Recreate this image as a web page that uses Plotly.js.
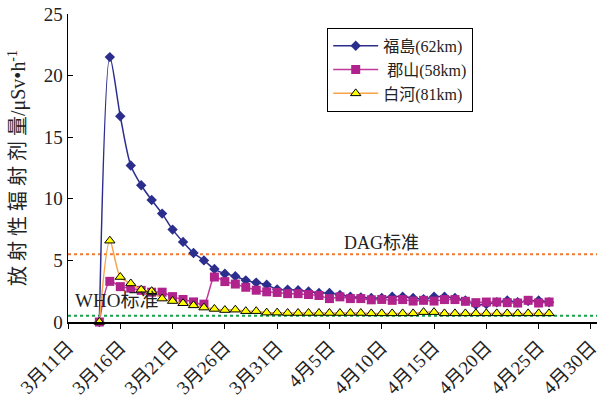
<!DOCTYPE html>
<html><head><meta charset="utf-8">
<script src="https://cdn.plot.ly/plotly-3.0.1.min.js"></script>
<style>html,body{margin:0;padding:0;background:#fff}</style>
</head><body><div id="chart" style="width:597px;height:397px"></div>
<script>
const dates = ['2011-03-14','2011-03-15','2011-03-16','2011-03-17','2011-03-18','2011-03-19','2011-03-20','2011-03-21','2011-03-22','2011-03-23','2011-03-24','2011-03-25','2011-03-26','2011-03-27','2011-03-28','2011-03-29','2011-03-30','2011-03-31',
'2011-04-01','2011-04-02','2011-04-03','2011-04-04','2011-04-05','2011-04-06','2011-04-07','2011-04-08','2011-04-09','2011-04-10','2011-04-11','2011-04-12','2011-04-13','2011-04-14','2011-04-15','2011-04-16','2011-04-17','2011-04-18','2011-04-19','2011-04-20','2011-04-21','2011-04-22','2011-04-23','2011-04-24','2011-04-25','2011-04-26'];
const fukushima = [0,21.5,16.7,12.7,11.1,9.9,8.8,7.5,6.5,5.6,5.0,4.3,3.92,3.72,3.38,3.2,3.03,2.65,
2.63,2.58,2.48,2.35,2.36,2.2,2.05,2.0,1.95,1.95,2.05,2.05,1.95,1.85,2.05,2.05,1.95,1.75,1.4,1.45,1.6,1.75,1.6,1.7,1.75,1.6];
const koriyama = [0,3.3,2.87,2.75,2.57,2.42,2.42,2.06,1.83,1.63,1.45,3.65,3.28,3.08,2.82,2.58,2.45,2.4,
2.3,2.3,2.23,2.15,1.9,2.04,1.9,1.9,1.8,1.83,1.76,1.82,1.7,1.76,1.7,1.82,1.82,1.68,1.57,1.62,1.62,1.57,1.54,1.76,1.54,1.62];
const shirakawa = [0,6.6,3.65,3.13,2.62,2.5,1.9,1.7,1.52,1.35,1.17,1.06,0.97,1.0,0.88,0.88,0.76,0.76,
0.73,0.73,0.73,0.73,0.73,0.73,0.73,0.73,0.7,0.7,0.7,0.7,0.7,0.8,0.8,0.7,0.7,0.7,0.7,0.7,0.7,0.7,0.7,0.7,0.7,0.7];
const seriesNames = ['福島(62km)', '\u00a0郡山(58km)', '白河(81km)'];
const tickDates = ['2011-03-11','2011-03-16','2011-03-21','2011-03-26','2011-03-31','2011-04-05','2011-04-10','2011-04-15','2011-04-20','2011-04-25','2011-04-30'];
const tickLabels = ['3月11日','3月16日','3月21日','3月26日','3月31日','4月5日','4月10日','4月15日','4月20日','4月25日','4月30日'];
const dagLevel = 5.5;
const whoLevel = 0.5;

const serif = '"Liberation Serif", "Noto Sans CJK SC", serif';

const traces = [
  {x: dates, y: fukushima, name: seriesNames[0], type: 'scatter', mode: 'lines+markers', cliponaxis: false,
   line: {color: '#2B2E8C', width: 1.5, shape: 'spline', smoothing: 0.8},
   marker: {symbol: 'diamond', size: 8, color: '#2B2E8C'}},
  {x: dates, y: koriyama, name: seriesNames[1], type: 'scatter', mode: 'lines+markers', cliponaxis: false,
   line: {color: '#C03A9C', width: 1.5, shape: 'spline', smoothing: 0.8},
   marker: {symbol: 'square', size: 9, color: '#B0228C'}},
  {x: dates, y: shirakawa, name: seriesNames[2], type: 'scatter', mode: 'lines+markers', cliponaxis: false,
   line: {color: '#F7A44A', width: 1.5, shape: 'spline', smoothing: 0.8},
   marker: {symbol: 'triangle-up', size: 9, color: '#FFFF00', line: {color: '#000', width: 1}}}
];

const layout = {
  width: 597, height: 397,
  margin: {l: 68, r: 0, t: 14, b: 75},
  paper_bgcolor: '#fff', plot_bgcolor: '#fff',
  font: {family: serif, color: '#222'},
  showlegend: true,
  legend: {x: 0.49, y: 0.955, xanchor: 'left', yanchor: 'top', bgcolor: '#fff', itemwidth: 45,
    bordercolor: '#000', borderwidth: 1, font: {family: serif, size: 16, color: '#222'}},
  xaxis: {type: 'date', range: ['2011-03-11', '2011-04-30 14:00'], tickvals: tickDates, ticktext: tickLabels,
    tickangle: -45, ticks: 'outside', ticklen: 5, tickcolor: '#000', showline: true, linecolor: '#000', linewidth: 1.5,
    ticklabeloverflow: 'allow',
    showgrid: false, zeroline: false, tickfont: {family: serif, size: 19, color: '#222'}},
  yaxis: {range: [0, 25], dtick: 5, ticks: 'inside', ticklen: 5, tickcolor: '#000', showline: true, linecolor: '#000', linewidth: 1.5,
    showgrid: false, zeroline: false, tickfont: {family: serif, size: 19, color: '#222'},
    title: {text: '放 射 性 辐 射 剂 量/μSv•h<sup>-1</sup>', font: {family: serif, size: 20, color: '#222'}, standoff: 12}},
  shapes: [
    {type: 'line', xref: 'paper', x0: 0, x1: 1, yref: 'y', y0: dagLevel, y1: dagLevel, line: {color: '#F07830', width: 2, dash: 'dot'}, layer: 'below'},
    {type: 'line', xref: 'paper', x0: 0, x1: 1, yref: 'y', y0: whoLevel, y1: whoLevel, line: {color: '#17A04A', width: 2, dash: 'dot'}, layer: 'below'}
  ],
  annotations: [
    {text: 'DAG标准', x: '2011-04-10', y: 6.45, xref: 'x', yref: 'y', showarrow: false, font: {family: serif, size: 18, color: '#222'}},
    {text: 'WHO标准', x: '2011-03-15 16:00', y: 1.76, xref: 'x', yref: 'y', showarrow: false, font: {family: serif, size: 19, color: '#222'}}
  ]
};

Plotly.newPlot('chart', traces, layout, {displayModeBar: false, staticPlot: true});
</script></body></html>
